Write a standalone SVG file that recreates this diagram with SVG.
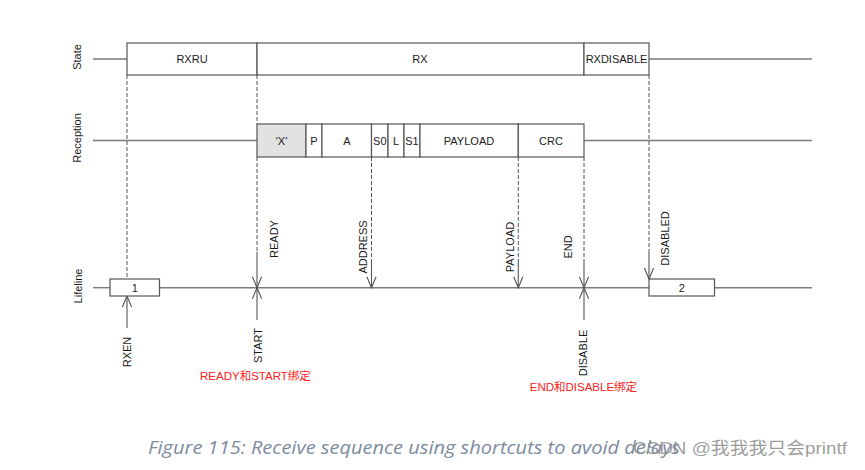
<svg xmlns="http://www.w3.org/2000/svg" width="865" height="470" viewBox="0 0 865 470">
<defs>
<style>
.bg{fill:#ffffff}
.box{fill:#ffffff;stroke:#555555;stroke-width:1.2}
.gray{fill:#e2e2e2}
.hl{stroke:#7a7a7a;stroke-width:1.4;fill:none}
.dash{stroke:#555555;stroke-width:1;stroke-dasharray:4 2;fill:none}
.arr{stroke:#555555;stroke-width:1.1;fill:none;marker-end:url(#ah)}
.t{font-family:"Liberation Sans",Arial,sans-serif;font-size:11px;fill:#1a1a1a;text-anchor:middle}
.red{font-family:"Liberation Sans","Noto Sans CJK SC",sans-serif;font-size:11.5px;fill:#ff2020;text-anchor:middle}
.cap{font-family:"Open Sans","Liberation Sans",sans-serif;font-style:italic;font-size:19px;fill:#7d8ba0}
.wm{font-family:"Liberation Sans","Noto Sans CJK SC",sans-serif;font-size:17px;fill:#8a8a8a;fill-opacity:0.85}
</style>
<marker id="ah" markerUnits="userSpaceOnUse" markerWidth="14" markerHeight="12" refX="0" refY="0" orient="auto" overflow="visible">
<path d="M-11,-4.6 L0,0 L-11,4.6" fill="none" stroke="#555555" stroke-width="1.1"/>
</marker>
</defs>
<rect class="bg" x="0" y="0" width="865" height="470"/>

<g id="row-labels">
<text class="t" transform="translate(81,57) rotate(-90)">State</text>
<text class="t" transform="translate(80.5,138) rotate(-90)">Reception</text>
<text class="t" transform="translate(81.5,286) rotate(-90)">Lifeline</text>
</g>

<g id="connectors">
<line class="hl" x1="93" y1="59" x2="127" y2="59"/>
<line class="hl" x1="649" y1="59" x2="812" y2="59"/>
<line class="hl" x1="93" y1="140.5" x2="257" y2="140.5"/>
<line class="hl" x1="584" y1="140.5" x2="812" y2="140.5"/>
<line class="hl" x1="93" y1="287.7" x2="110" y2="287.7"/>
<line class="hl" x1="159.5" y1="287.7" x2="649" y2="287.7"/>
<line class="hl" x1="714.5" y1="287.7" x2="812" y2="287.7"/>

<line class="dash" x1="127" y1="75" x2="127" y2="279"/>
<line class="dash" x1="257" y1="75" x2="257" y2="124"/>
<line class="dash" x1="257" y1="157" x2="257" y2="252"/>
<line class="dash" x1="371.5" y1="157" x2="371.5" y2="260"/>
<line class="dash" x1="518.3" y1="157" x2="518.3" y2="260"/>
<line class="dash" x1="584" y1="157" x2="584" y2="260"/>
<line class="dash" x1="649" y1="75" x2="649" y2="252"/>

<line id="e-ready" class="arr" x1="257" y1="252" x2="257" y2="287.7"/>
<line id="e-start" class="arr" x1="257" y1="320" x2="257" y2="287.7"/>
<line id="e-rxen" class="arr" x1="127" y1="328" x2="127" y2="296"/>
<line id="e-address" class="arr" x1="371.5" y1="260" x2="371.5" y2="287.7"/>
<line id="e-payload" class="arr" x1="518.3" y1="260" x2="518.3" y2="287.7"/>
<line id="e-end" class="arr" x1="584" y1="260" x2="584" y2="287.7"/>
<line id="e-disable" class="arr" x1="584" y1="320" x2="584" y2="287.7"/>
<line id="e-disabled" class="arr" x1="649" y1="252" x2="649" y2="279"/>
</g>

<g id="state-rxru">
<rect class="box" x="127" y="43" width="130" height="32"/>
<text class="t" x="192" y="63">RXRU</text>
</g>
<g id="state-rx">
<rect class="box" x="257" y="43" width="327" height="32"/>
<text class="t" x="420" y="63">RX</text>
</g>
<g id="state-rxdisable">
<rect class="box" x="584" y="43" width="65" height="32"/>
<text class="t" x="616.5" y="63">RXDISABLE</text>
</g>

<g id="rx-x">
<rect class="box gray" x="257" y="124" width="49" height="33"/>
<text class="t" x="281.5" y="144.5">'X'</text>
</g>
<g id="rx-p">
<rect class="box" x="306" y="124" width="16" height="33"/>
<text class="t" x="314" y="144.5">P</text>
</g>
<g id="rx-a">
<rect class="box" x="322" y="124" width="49.5" height="33"/>
<text class="t" x="346.8" y="144.5">A</text>
</g>
<g id="rx-s0">
<rect class="box" x="371.5" y="124" width="16.5" height="33"/>
<text class="t" x="379.8" y="144.5">S0</text>
</g>
<g id="rx-l">
<rect class="box" x="388" y="124" width="16" height="33"/>
<text class="t" x="396" y="144.5">L</text>
</g>
<g id="rx-s1">
<rect class="box" x="404" y="124" width="16" height="33"/>
<text class="t" x="412" y="144.5">S1</text>
</g>
<g id="rx-payload">
<rect class="box" x="420" y="124" width="98.3" height="33"/>
<text class="t" x="469" y="144.5">PAYLOAD</text>
</g>
<g id="rx-crc">
<rect class="box" x="518.3" y="124" width="65.7" height="33"/>
<text class="t" x="551" y="144.5">CRC</text>
</g>

<g id="life-1">
<rect class="box" x="110" y="279" width="49.5" height="17"/>
<text class="t" x="134.7" y="291.5">1</text>
</g>
<g id="life-2">
<rect class="box" x="649" y="279" width="65.5" height="17"/>
<text class="t" x="681.7" y="291.5">2</text>
</g>

<g id="event-labels">
<text class="t" transform="translate(277.5,239) rotate(-90)">READY</text>
<text class="t" transform="translate(261.5,345.5) rotate(-90)">START</text>
<text class="t" transform="translate(131,352) rotate(-90)">RXEN</text>
<text class="t" transform="translate(367.3,247) rotate(-90)">ADDRESS</text>
<text class="t" transform="translate(514,247) rotate(-90)">PAYLOAD</text>
<text class="t" transform="translate(571.5,247) rotate(-90)">END</text>
<text class="t" transform="translate(587.3,353) rotate(-90)">DISABLE</text>
<text class="t" transform="translate(669.3,238.5) rotate(-90)">DISABLED</text>
</g>

<g id="notes">
<text class="red" x="255.4" y="380">READY和START绑定</text>
<text class="red" x="583.4" y="390.5">END和DISABLE绑定</text>
</g>

<g id="caption">
<text class="cap" x="148" y="454" textLength="532" lengthAdjust="spacingAndGlyphs">Figure 115: Receive sequence using shortcuts to avoid delays</text>
<text class="wm" x="633" y="454" textLength="214" lengthAdjust="spacingAndGlyphs">CSDN @我我我只会printf</text>
</g>
</svg>
